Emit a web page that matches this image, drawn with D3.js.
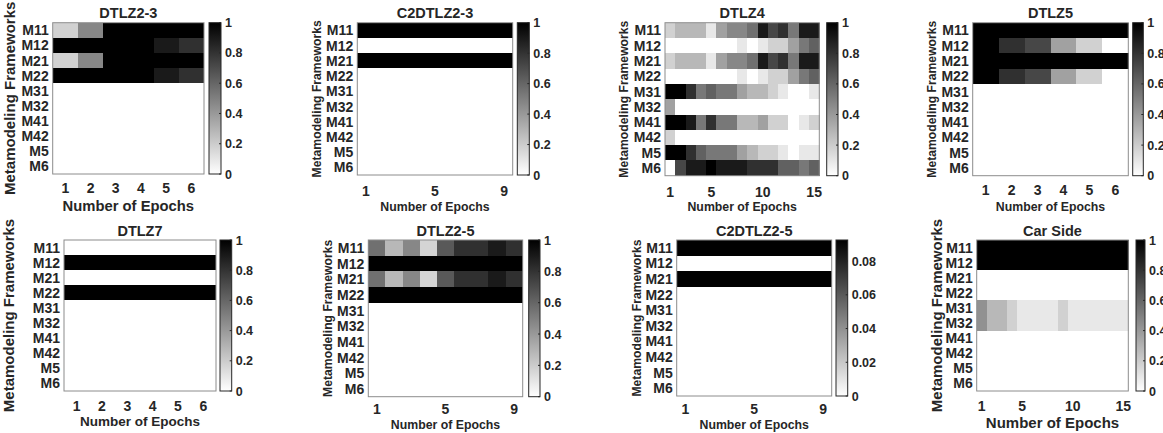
<!DOCTYPE html>
<html>
<head>
<meta charset="utf-8">
<script src="https://cdn.jsdelivr.net/npm/d3@7"></script>
<style>
  body { margin: 0; background: #fff; }
  svg text { font-family: "Liberation Sans", Arial, sans-serif; font-weight: bold; fill: #262626; }
</style>
</head>
<body>
<div id="chart"></div>
<script>
// row labels shared by every panel
var rowLabels = ["M11", "M12", "M21", "M22", "M31", "M32", "M41", "M42", "M5", "M6"];

// --- data, one matrix per panel (rows = rowLabels, cols = epochs) ---
var z6 = [0, 0, 0, 0, 0, 0];
var z9 = [0, 0, 0, 0, 0, 0, 0, 0, 0];
var z15 = [0, 0, 0, 0, 0, 0, 0, 0, 0, 0, 0, 0, 0, 0, 0];

var dtlz2_3 = [
  [0.18, 0.47, 1, 1, 1, 1],
  [1, 1, 1, 1, 0.9, 0.81],
  [0.18, 0.47, 1, 1, 1, 1],
  [1, 1, 1, 1, 0.9, 0.81],
  z6, z6, z6, z6, z6, z6
];

var c2dtlz2_3 = [
  [1, 1, 1, 1, 1, 1, 1, 1, 1],
  z9,
  [1, 1, 1, 1, 1, 1, 1, 1, 1],
  z9, z9, z9, z9, z9, z9, z9
];

var dtlz4 = [
  [0.18, 0.28, 0.28, 0.28, 0.09, 0.37, 0.47, 0.47, 0.56, 0.9, 0.72, 0.81, 0.53, 0.9, 0.9],
  [0, 0, 0, 0, 0, 0, 0, 0.09, 0, 0.09, 0.18, 0.18, 0.37, 0.53, 0.62],
  [0.18, 0.28, 0.28, 0.28, 0.09, 0.37, 0.47, 0.47, 0.56, 0.9, 0.72, 0.81, 0.53, 0.9, 0.9],
  [0, 0, 0, 0, 0, 0, 0, 0.09, 0, 0.09, 0.18, 0.18, 0.37, 0.53, 0.62],
  [1, 1, 0.81, 0.53, 0.62, 0.53, 0.53, 0.37, 0.28, 0.28, 0.18, 0.09, 0, 0, 0.09],
  [0.37, 0, 0, 0, 0, 0, 0, 0, 0, 0, 0, 0, 0, 0, 0],
  [1, 1, 0.9, 0.53, 0.81, 0.53, 0.53, 0.28, 0.28, 0.37, 0.18, 0.18, 0, 0.09, 0.18],
  [0.18, 0, 0, 0, 0, 0, 0, 0, 0, 0, 0, 0, 0, 0, 0],
  [1, 1, 0.81, 0.62, 0.53, 0.53, 0.53, 0.37, 0.28, 0.18, 0.18, 0.09, 0, 0.09, 0.09],
  [0, 0.72, 0.9, 0.9, 1, 0.9, 0.9, 0.9, 0.81, 0.81, 0.81, 0.62, 0.62, 0.53, 0.62]
];

var dtlz5 = [
  [1, 1, 1, 1, 1, 1],
  [1, 0.81, 0.72, 0.37, 0.18, 0],
  [1, 1, 1, 1, 1, 1],
  [1, 0.81, 0.72, 0.37, 0.18, 0],
  z6, z6, z6, z6, z6, z6
];

var dtlz7 = [
  z6,
  [1, 1, 1, 1, 1, 1],
  z6,
  [1, 1, 1, 1, 1, 1],
  z6, z6, z6, z6, z6, z6
];

var dtlz2_5 = [
  [0.56, 0.28, 0.47, 0.17, 0.65, 0.81, 0.81, 0.9, 0.81],
  [1, 1, 1, 1, 1, 1, 1, 1, 1],
  [0.56, 0.28, 0.47, 0.17, 0.65, 0.81, 0.81, 0.9, 0.81],
  [1, 1, 1, 1, 1, 1, 1, 1, 1],
  z9, z9, z9, z9, z9, z9
];

var c2dtlz2_5 = [
  [0.092, 0.092, 0.092, 0.092, 0.092, 0.092, 0.092, 0.092, 0.092],
  z9,
  [0.092, 0.092, 0.092, 0.092, 0.092, 0.092, 0.092, 0.092, 0.092],
  z9, z9, z9, z9, z9, z9, z9
];

var carSide = [
  [1, 1, 1, 1, 1, 1, 1, 1, 1, 1, 1, 1, 1, 1, 1],
  [1, 1, 1, 1, 1, 1, 1, 1, 1, 1, 1, 1, 1, 1, 1],
  z15, z15,
  [0.43, 0.28, 0.28, 0.18, 0.09, 0.09, 0.09, 0.09, 0.18, 0.09, 0.09, 0.09, 0.09, 0.09, 0.09],
  [0.43, 0.28, 0.28, 0.18, 0.09, 0.09, 0.09, 0.09, 0.18, 0.09, 0.09, 0.09, 0.09, 0.09, 0.09],
  z15, z15, z15, z15
];

// tick labels
var ticks6 = [1, 2, 3, 4, 5, 6];
var ticks9 = [1, 5, 9];
var ticks15 = [1, 5, 10, 15];
var cbarTicks1 = [0, 0.2, 0.4, 0.6, 0.8, 1];
var cbarTicksSmall = [0, 0.02, 0.04, 0.06, 0.08];

// --- layout of each panel (pixel boxes) ---
var panels = [
  { title: "DTLZ2-3", data: dtlz2_3, xt: ticks6, cmax: 1, ct: cbarTicks1,
    x0: 52.7, x1: 204, y0: 22.7, y1: 174, cb0: 209, cb1: 221, ylx: 15, big: 15, xlSize: 14.8, xtY: 192.7, xlY: 210.5 },
  { title: "C2DTLZ2-3", data: c2dtlz2_3, xt: ticks9, cmax: 1, ct: cbarTicks1,
    x0: 357.3, x1: 512.7, y0: 22.7, y1: 175, cb0: 517.3, cb1: 529.3, ylx: 321, big: 12.2, xlSize: 12.3, xtY: 196, xlY: 211 },
  { title: "DTLZ4", data: dtlz4, xt: ticks15, cmax: 1, ct: cbarTicks1,
    x0: 665, x1: 819.3, y0: 22.7, y1: 175.7, cb0: 826.7, cb1: 838, ylx: 628, big: 12.2, xlSize: 12.3, xtY: 196.5, xlY: 211 },
  { title: "DTLZ5", data: dtlz5, xt: ticks6, cmax: 1, ct: cbarTicks1,
    x0: 972.7, x1: 1128.3, y0: 22.7, y1: 175.7, cb0: 1132.7, cb1: 1143.3, ylx: 936, big: 12.2, xlSize: 12.3, xtY: 194.5, xlY: 211 },
  { title: "DTLZ7", data: dtlz7, xt: ticks6, cmax: 1, ct: cbarTicks1,
    x0: 64, x1: 216, y0: 240, y1: 391, cb0: 220, cb1: 231.7, ylx: 14, big: 15, xlSize: 13.5, xtY: 411, xlY: 425.7 },
  { title: "DTLZ2-5", data: dtlz2_5, xt: ticks9, cmax: 1, ct: cbarTicks1,
    x0: 368.3, x1: 522.7, y0: 240, y1: 396.7, cb0: 528.7, cb1: 540, ylx: 332, big: 12.2, xlSize: 12.3, xtY: 414.3, xlY: 429.3 },
  { title: "C2DTLZ2-5", data: c2dtlz2_5, xt: ticks9, cmax: 0.0925, ct: cbarTicksSmall,
    x0: 676.7, x1: 831.7, y0: 240, y1: 396, cb0: 836, cb1: 847.7, ylx: 641, big: 12.2, xlSize: 12.3, xtY: 414, xlY: 429.3 },
  { title: "Car Side", data: carSide, xt: ticks15, cmax: 1, ct: cbarTicks1,
    x0: 976.7, x1: 1128.3, y0: 240, y1: 391, cb0: 1136, cb1: 1145, ylx: 942, big: 15, xlSize: 15, xtY: 411, xlY: 428.3 }
];

var svg = d3.select("#chart").append("svg")
  .attr("width", 1163)
  .attr("height", 433);

var defs = svg.append("defs");
var grad = defs.append("linearGradient")
  .attr("id", "cbGrad")
  .attr("x1", 0).attr("y1", 1).attr("x2", 0).attr("y2", 0);
grad.append("stop").attr("offset", "0%").attr("stop-color", "#fff");
grad.append("stop").attr("offset", "100%").attr("stop-color", "#000");

panels.forEach(function(p) {
  var g = svg.append("g");
  var nCols = p.data[0].length;
  var epochs = d3.range(1, nCols + 1);

  var xScale = d3.scaleBand().domain(epochs).range([p.x0, p.x1]);
  var yScale = d3.scaleBand().domain(rowLabels).range([p.y0, p.y1]);
  var color = d3.scaleLinear().domain([0, p.cmax]).range(["#ffffff", "#000000"]).clamp(true);

  // cells
  var cells = [];
  p.data.forEach(function(row, i) {
    row.forEach(function(v, j) {
      cells.push({ r: rowLabels[i], c: epochs[j], v: v });
    });
  });
  g.append("g").selectAll("rect")
    .data(cells)
    .enter()
    .append("rect")
    .attr("x", function(d) { return xScale(d.c); })
    .attr("y", function(d) { return yScale(d.r); })
    .attr("width", xScale.bandwidth() + 0.4)
    .attr("height", yScale.bandwidth() + 0.4)
    .attr("fill", function(d) { return color(d.v); })
    .attr("shape-rendering", "crispEdges");

  // frame
  g.append("rect")
    .attr("x", p.x0).attr("y", p.y0)
    .attr("width", p.x1 - p.x0).attr("height", p.y1 - p.y0)
    .attr("fill", "none")
    .attr("stroke", "#8c8c8c")
    .attr("stroke-width", 1);

  // y tick labels
  g.append("g").selectAll("text")
    .data(rowLabels)
    .enter()
    .append("text")
    .text(function(d) { return d; })
    .attr("x", p.x0 - 4)
    .attr("y", function(d) { return yScale(d) + yScale.bandwidth() / 2; })
    .attr("dy", "0.36em")
    .attr("text-anchor", "end")
    .style("font-size", "14px");

  // x tick labels
  g.append("g").selectAll("text")
    .data(p.xt)
    .enter()
    .append("text")
    .text(function(d) { return d; })
    .attr("x", function(d) { return xScale(d) + xScale.bandwidth() / 2; })
    .attr("y", p.xtY)
    .attr("text-anchor", "middle")
    .style("font-size", "14px");

  // title
  g.append("text")
    .text(p.title)
    .attr("x", (p.x0 + p.x1) / 2)
    .attr("y", p.y0 - 4.5)
    .attr("text-anchor", "middle")
    .style("font-size", "14.5px");

  // axis labels
  g.append("text")
    .text("Number of Epochs")
    .attr("x", (p.x0 + p.x1) / 2)
    .attr("y", p.xlY)
    .attr("text-anchor", "middle")
    .style("font-size", p.xlSize + "px");

  g.append("text")
    .text("Metamodeling Frameworks")
    .attr("transform", "translate(" + p.ylx + "," + (p.y0 + p.y1) / 2 + ") rotate(-90)")
    .attr("text-anchor", "middle")
    .style("font-size", p.big + "px");

  // colorbar
  var cScale = d3.scaleLinear().domain([0, p.cmax]).range([p.y1, p.y0]);
  g.append("rect")
    .attr("x", p.cb0).attr("y", p.y0)
    .attr("width", p.cb1 - p.cb0).attr("height", p.y1 - p.y0)
    .attr("fill", "url(#cbGrad)")
    .attr("stroke", "#262626")
    .attr("stroke-width", 1);

  var cAxis = d3.axisRight(cScale)
    .tickValues(p.ct)
    .tickSize(0)
    .tickPadding(4)
    .tickFormat(function(d) { return d === 0 ? "0" : d3.format("")(d); });

  var ca = g.append("g")
    .attr("transform", "translate(" + p.cb1 + ",0)")
    .call(cAxis);
  ca.select(".domain").remove();
  ca.selectAll("text")
    .style("font-size", "12.5px")
    .attr("fill", "#262626");
  // small inward tick marks
  g.append("g").selectAll("line")
    .data(p.ct)
    .enter()
    .append("line")
    .attr("x1", p.cb1 - 2)
    .attr("x2", p.cb1)
    .attr("y1", function(d) { return cScale(d); })
    .attr("y2", function(d) { return cScale(d); })
    .attr("stroke", "#262626");
});
</script>
</body>
</html>
